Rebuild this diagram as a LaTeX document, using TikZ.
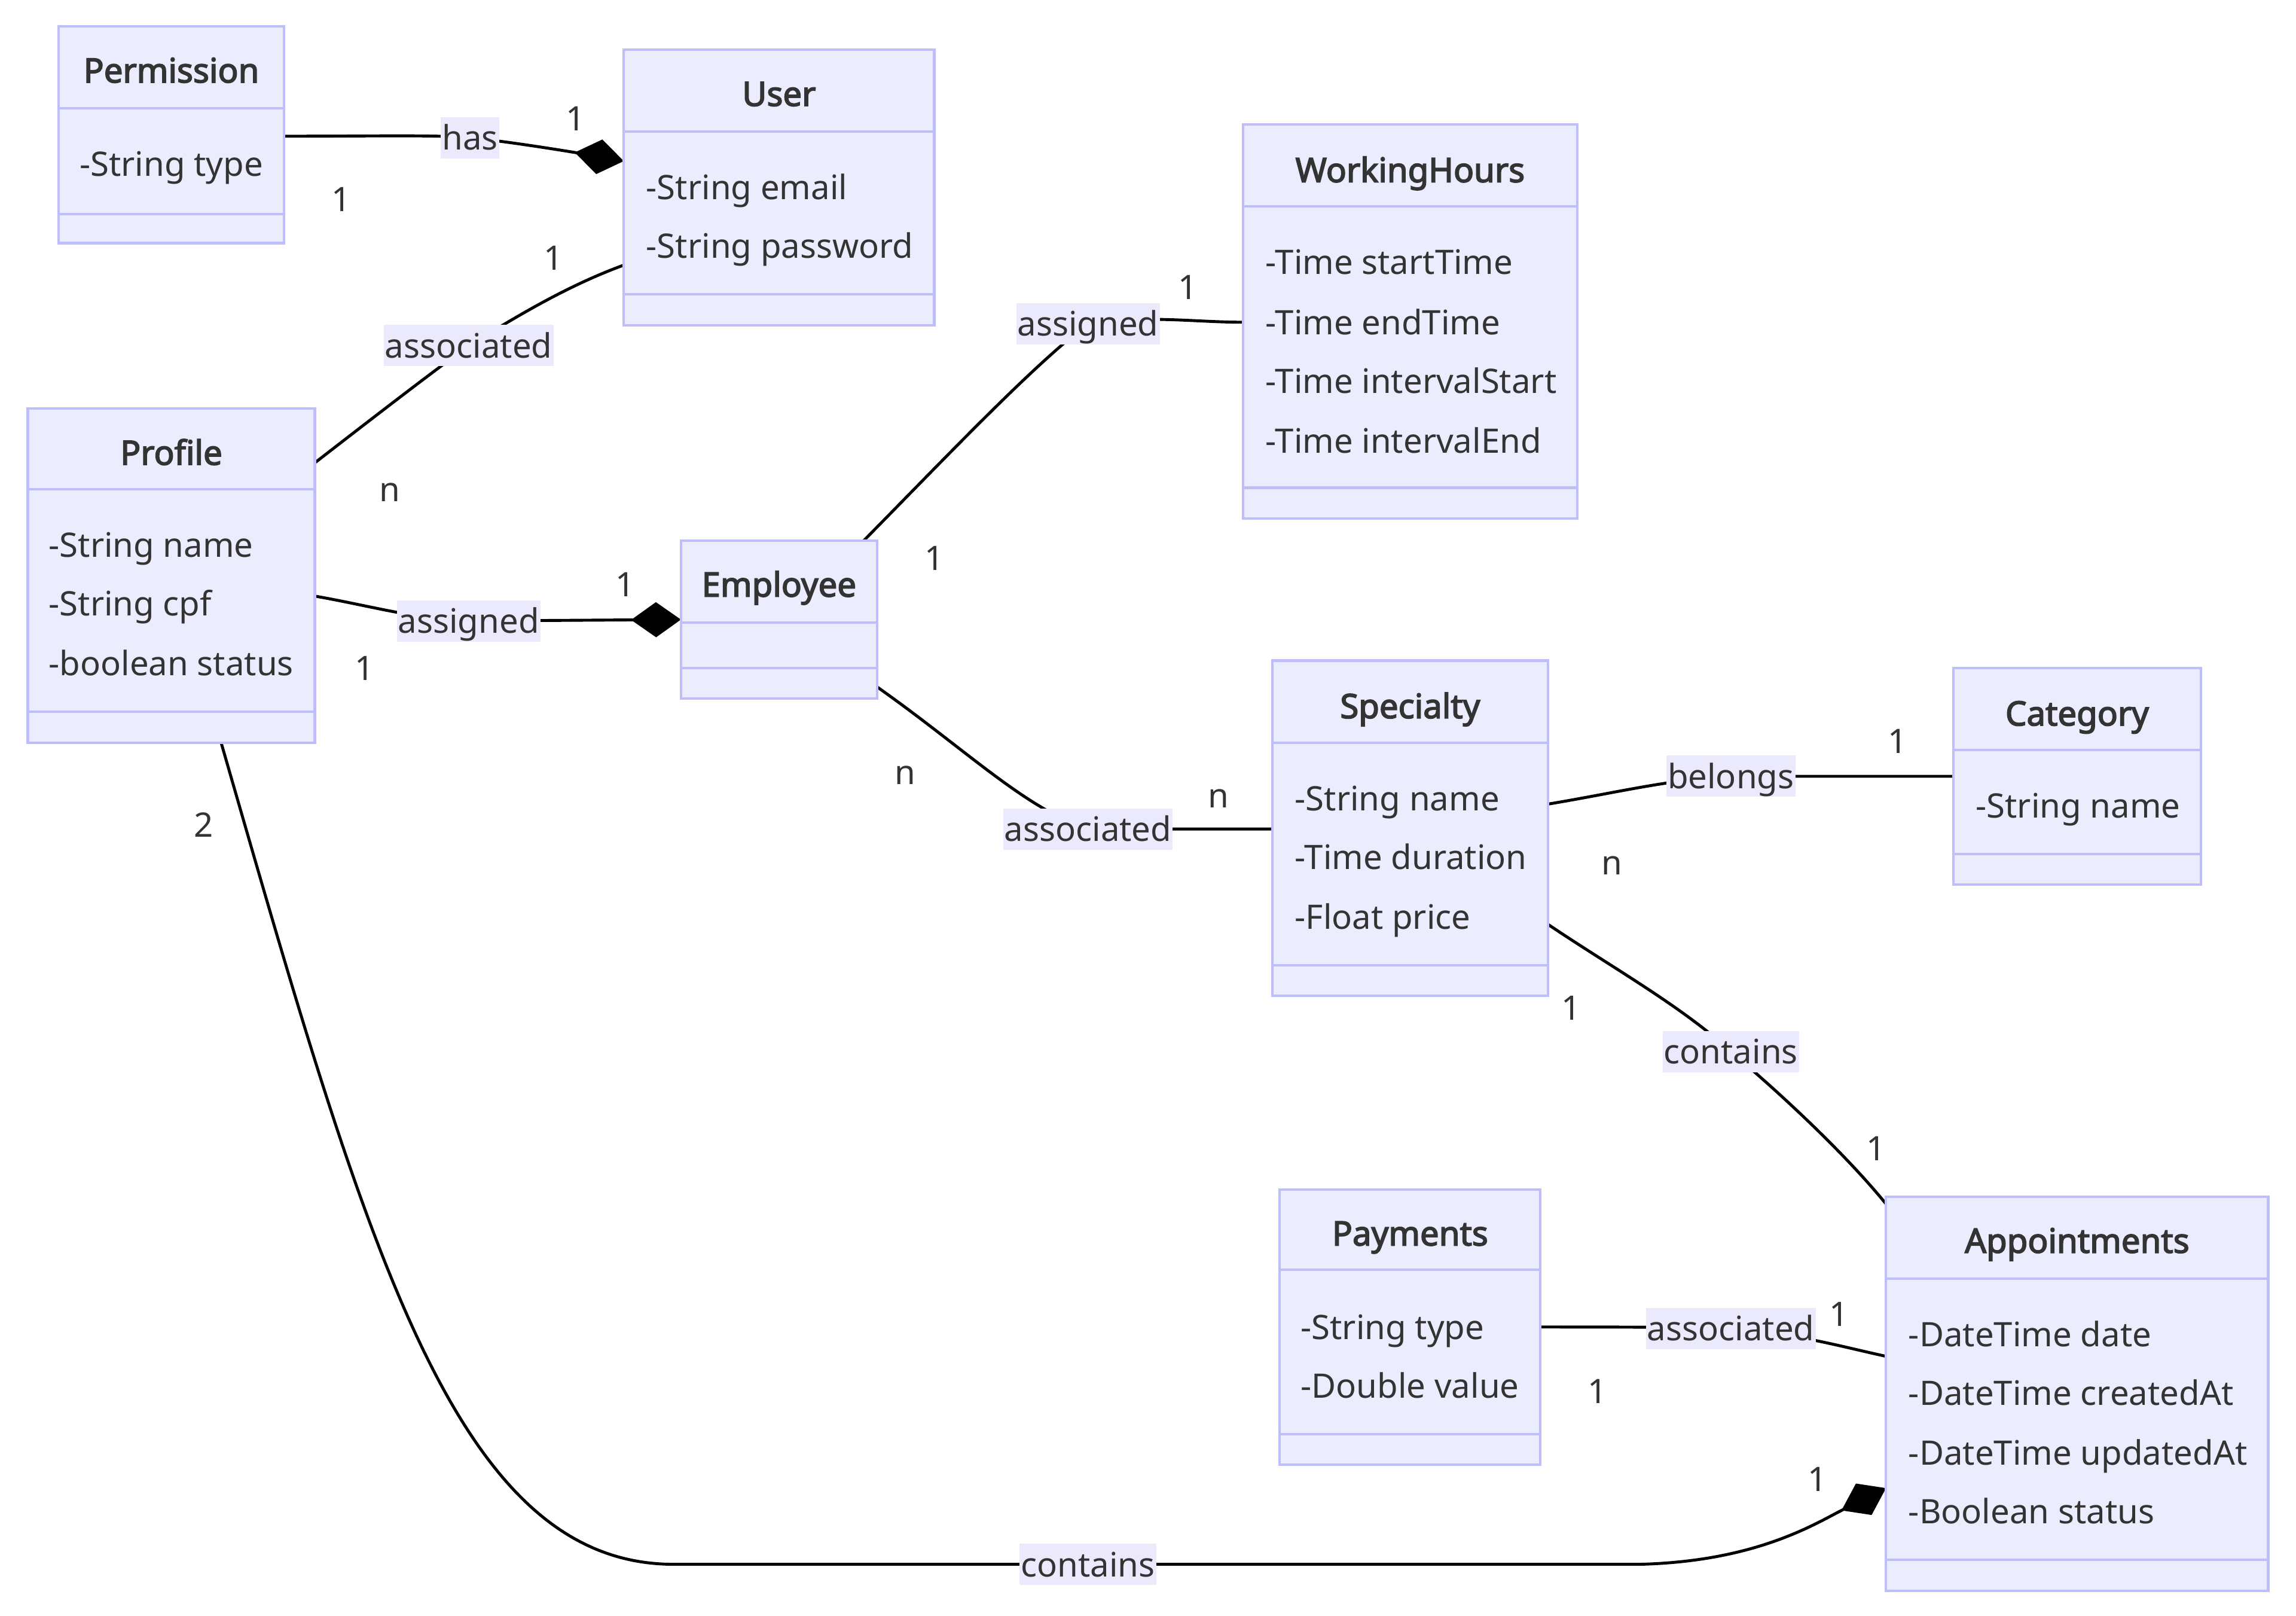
\documentclass[tikz,border=0pt]{standalone}
\usepackage{fontspec}
\setmainfont{Noto Sans}[AutoFakeBold=3]
\usetikzlibrary{arrows.meta}
\definecolor{clsfill}{RGB}{236,236,255}
\definecolor{clsline}{RGB}{190,190,248}
\definecolor{lblfill}{RGB}{234,234,252}
\definecolor{txt}{RGB}{51,51,51}
\pgfdeclarelayer{bg}
\pgfdeclarelayer{edges}
\pgfsetlayers{bg,edges,main}

% class box: name, x1, y1, x2, y2, divider 1, divider 2, title, title y
\newcommand\classbox[9]{%
  \node[cls, minimum width={(#4-#2)*0.6pt}, minimum height={(#5-#3)*0.6pt},
        anchor=north west] (#1) at (#2,#3) {};
  \draw[divline] (#2,#6) -- (#4,#6);
  \draw[divline] (#2,#7) -- (#4,#7);
  \node[ttl] (#1-title) at ({(#2+#4)/2},#9) {#8};
}

\begin{document}
\begin{tikzpicture}[x=0.6pt,y=-0.6pt,
  font=\fontsize{13.8}{16}\selectfont,
  cls/.style={draw=clsline, fill=clsfill, line width=1pt, inner sep=0pt, outer sep=0pt},
  divline/.style={draw=clsline, line width=1pt},
  ttl/.style={text=txt, font=\fontsize{13.8}{16}\selectfont\bfseries, inner sep=0pt,
              text height=1.0em, text depth=0.12em},
  attr/.style={text=txt, anchor=west, inner sep=0pt, text height=1.0em, text depth=0.12em},
  lbl/.style={fill=lblfill, text=txt, inner xsep=0.5pt, inner ysep=1pt,
              text height=12.5pt, text depth=2.4pt},
  card/.style={text=txt, inner sep=0pt, text height=1.0em, text depth=0.12em},
  edge/.style={draw=black, line width=1.2pt},
  comp/.style={-{Diamond[length=20.4pt,width=14.4pt]}}
]
\useasboundingbox (0,0) rectangle (1568,1103);
\begin{pgfonlayer}{bg}
  \fill[white] (0,0) rectangle (1568,1103);
\end{pgfonlayer}

% ---- classes ----
\classbox{perm}{40}{18}{194}{166}{74}{146}{Permission}{49}
\node[attr] (perm-a1) at (54,113) {-String type};

\classbox{user}{426}{34}{638}{222}{90}{201}{User}{65}
\node[attr] (user-a1) at (441,129) {-String email};
\node[attr] (user-a2) at (441,169) {-String password};

\classbox{wh}{849}{85}{1077}{354}{141}{333}{WorkingHours}{117}
\node[attr] (wh-a1) at (864,180) {-Time startTime};
\node[attr] (wh-a2) at (864,221) {-Time endTime};
\node[attr] (wh-a3) at (864,261) {-Time intervalStart};
\node[attr] (wh-a4) at (864,302) {-Time intervalEnd};

\classbox{profile}{19}{279}{215}{507}{334}{486}{Profile}{310}
\node[attr] (profile-a1) at (33,373) {-String name};
\node[attr] (profile-a2) at (33,413) {-String cpf};
\node[attr] (profile-a3) at (33,454) {-boolean status};

\classbox{employee}{465}{369}{599}{477}{425}{456}{Employee}{400}

\classbox{spec}{869}{451}{1057}{680}{507}{659}{Specialty}{483}
\node[attr] (spec-a1) at (884,546) {-String name};
\node[attr] (spec-a2) at (884,586) {-Time duration};
\node[attr] (spec-a3) at (884,627) {-Float price};

\classbox{cat}{1334}{456}{1503}{604}{512}{583}{Category}{488}
\node[attr] (cat-a1) at (1349,551) {-String name};

\classbox{pay}{874}{812}{1052}{1000}{867}{979}{Payments}{843}
\node[attr] (pay-a1) at (888,907) {-String type};
\node[attr] (pay-a2) at (888,947) {-Double value};

\classbox{appt}{1288}{817}{1549}{1086}{873}{1065}{Appointments}{848}
\node[attr] (appt-a1) at (1303,912) {-DateTime date};
\node[attr] (appt-a2) at (1303,952) {-DateTime createdAt};
\node[attr] (appt-a3) at (1303,993) {-DateTime updatedAt};
\node[attr] (appt-a4) at (1303,1033) {-Boolean status};

% ---- relation labels ----
\node[lbl] (l-has) at (321,94) {has};
\node[lbl] (l-pu)  at (320,236) {associated};
\node[lbl] (l-pe)  at (320,424) {assigned};
\node[lbl] (l-ew)  at (743,221) {assigned};
\node[lbl] (l-es)  at (743,566) {associated};
\node[lbl] (l-sc)  at (1182,530) {belongs};
\node[lbl] (l-sa)  at (1182,718) {contains};
\node[lbl] (l-pa)  at (1182,907) {associated};
\node[lbl] (l-pa2) at (743,1068) {contains};

% ---- multiplicities ----
\node[card] (c-has1) at (233,137) {1};
\node[card] (c-has2) at (393,82) {1};
\node[card] (c-pu1) at (266,335) {n};
\node[card] (c-pu2) at (378,177) {1};
\node[card] (c-pe1) at (249,457) {1};
\node[card] (c-pe2) at (427,400) {1};
\node[card] (c-ew1) at (638,382) {1};
\node[card] (c-ew2) at (811,197) {1};
\node[card] (c-es1) at (618,528) {n};
\node[card] (c-es2) at (832,544) {n};
\node[card] (c-sc1) at (1101,590) {n};
\node[card] (c-sc2) at (1296,507) {1};
\node[card] (c-sa1) at (1073,689) {1};
\node[card] (c-sa2) at (1281,785) {1};
\node[card] (c-pa1) at (1091,951) {1};
\node[card] (c-pa2) at (1256,898) {1};
\node[card] (c-pp1) at (139,564) {2};
\node[card] (c-pp2) at (1241,1011) {1};

% ---- relations ----
\begin{pgfonlayer}{edges}
  % Permission -- User (composition)
  \draw[edge] (perm.east |- 0,93) .. controls (260,93) and (295,92) .. (l-has.center);
  \draw[edge,comp] (l-has.center) .. controls (350,97) and (392,104) .. (user.west |- 0,110);
  % Profile -- User
  \draw[edge] (profile.east |- 0,316) .. controls (255,285) and (290,258) .. (l-pu.center)
              .. controls (350,218) and (385,196) .. (user.west |- 0,181);
  % Profile -- Employee (composition)
  \draw[edge] (profile.east |- 0,407) .. controls (250,413) and (285,423) .. (l-pe.center);
  \draw[edge,comp] (l-pe.center) -- (employee.west |- 0,423);
  % Employee -- WorkingHours
  \draw[edge] (590,0 |- employee.north) .. controls (650,308) and (705,250) .. (l-ew.center)
              .. controls (785,215) and (815,220) .. (wh.west |- 0,220);
  % Employee -- Specialty
  \draw[edge] (employee.east |- 0,469) .. controls (660,512) and (700,552) .. (l-es.center)
              .. controls (790,566) and (830,566) .. (spec.west |- 0,566);
  % Specialty -- Category
  \draw[edge] (spec.east |- 0,549) .. controls (1100,542) and (1140,532) .. (l-sc.center)
              .. controls (1240,530) and (1290,530) .. (cat.west |- 0,530);
  % Specialty -- Appointments
  \draw[edge] (spec.east |- 0,631) .. controls (1100,660) and (1150,688) .. (l-sa.center)
              .. controls (1220,750) and (1262,790) .. (appt.west |- 0,822);
  % Payments -- Appointments
  \draw[edge] (pay.east |- 0,906) .. controls (1100,906) and (1140,906) .. (l-pa.center)
              .. controls (1225,910) and (1260,920) .. (appt.west |- 0,926);
  % Profile -- Appointments (composition)
  \draw[edge] (151,0 |- profile.south) .. controls (250,850) and (310,1068) .. (460,1068)
              -- (l-pa2.center);
  \draw[edge,comp] (l-pa2.center) -- (1120,1068) .. controls (1200,1066) and (1240,1040)
              .. (appt.west |- 0,1016);
\end{pgfonlayer}
\end{tikzpicture}
\end{document}
